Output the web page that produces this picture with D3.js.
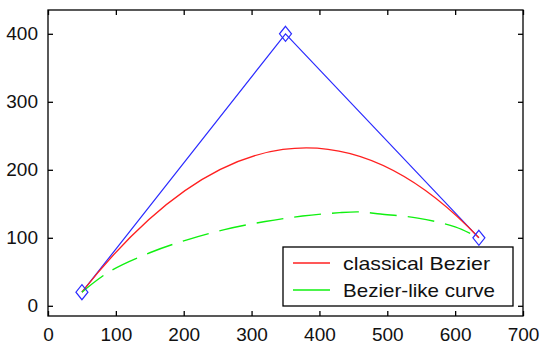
<!DOCTYPE html>
<html><head><meta charset="utf-8">
<script src="https://cdn.jsdelivr.net/npm/d3@7"></script>
<style>body{margin:0;background:#fff}svg{display:block}text{font-family:Arial,"Liberation Sans",sans-serif;fill:#111}</style>
</head><body>
<script>
// control polygon
const ctrlX = [50, 350, 635];
const ctrlY = [20, 400, 100];
// Bezier-like curve
const likeX = [50, 90, 150, 205, 260, 320, 375, 430, 460, 490, 545, 600, 635];
const likeY = [20, 50, 78, 97, 112, 124, 132, 137, 138, 135, 129, 116, 100];
const xTicks = [0, 100, 200, 300, 400, 500, 600, 700];
const yTicks = [0, 100, 200, 300, 400];
const legendLabels = ["classical Bezier", "Bezier-like curve"];

const W = 541, H = 346;
const L = 48, R = 523, T = 10, B = 316;
const svg = d3.select("body").append("svg").attr("width", W).attr("height", H);
const x = d3.scaleLinear().domain([0, 700]).range([L, R]);
const y = d3.scaleLinear().domain([-15, 435]).range([B, T]);

// axes box
svg.append("rect").attr("x", L).attr("y", T).attr("width", R - L).attr("height", B - T)
  .attr("fill", "none").attr("stroke", "#000").attr("stroke-width", 1.3);

const tl = 5;
const xb = svg.append("g").attr("transform", `translate(0,${B})`)
  .call(d3.axisBottom(x).tickValues(xTicks).tickSizeInner(-tl).tickSizeOuter(0).tickPadding(12));
const xt = svg.append("g").attr("transform", `translate(0,${T})`)
  .call(d3.axisTop(x).tickValues(xTicks).tickSizeInner(-tl).tickSizeOuter(0).tickFormat(""));
const yl = svg.append("g").attr("transform", `translate(${L},0)`)
  .call(d3.axisLeft(y).tickValues(yTicks).tickSizeInner(-tl).tickSizeOuter(0).tickPadding(10));
const yr = svg.append("g").attr("transform", `translate(${R},0)`)
  .call(d3.axisRight(y).tickValues(yTicks).tickSizeInner(-tl).tickSizeOuter(0).tickFormat(""));
[xb, xt, yl, yr].forEach(g => {
  g.select(".domain").remove();
  g.selectAll("line").attr("stroke", "#000").attr("stroke-width", 1.3);
  g.selectAll("text").attr("font-size", 19).attr("font-family", "Arial, 'Liberation Sans', sans-serif").attr("fill", "#111");
});

// control polygon (blue)
const ctrl = ctrlX.map((d, i) => [d, ctrlY[i]]);
svg.append("path").datum(ctrl)
  .attr("d", d3.line().x(d => x(d[0])).y(d => y(d[1])))
  .attr("fill", "none").attr("stroke", "#2b2bff").attr("stroke-width", 1.2);

// classical Bezier (red), quadratic through the control points
const p = d3.path();
p.moveTo(x(ctrl[0][0]), y(ctrl[0][1]));
p.quadraticCurveTo(x(ctrl[1][0]), y(ctrl[1][1]), x(ctrl[2][0]), y(ctrl[2][1]));
svg.append("path").attr("d", p.toString()).attr("fill", "none")
  .attr("stroke", "#ff2020").attr("stroke-width", 1.3);

// Bezier-like (green dashed)
const like = likeX.map((d, i) => [d, likeY[i]]);
svg.append("path").datum(like)
  .attr("d", d3.line().x(d => x(d[0])).y(d => y(d[1])).curve(d3.curveCatmullRom))
  .attr("fill", "none").attr("stroke", "#10f010").attr("stroke-width", 1.4)
  .attr("stroke-dasharray", "27,11");

// diamond markers
svg.selectAll(".mk").data(ctrl).join("path")
  .attr("d", d => { const cx = x(d[0]), cy = y(d[1]); return `M${cx},${cy-7.5}L${cx+6},${cy}L${cx},${cy+7.5}L${cx-6},${cy}Z`; })
  .attr("fill", "none").attr("stroke", "#2b2bff").attr("stroke-width", 1.2);

// legend
const lg = svg.append("g");
lg.append("rect").attr("x", 283).attr("y", 247).attr("width", 230).attr("height", 59)
  .attr("fill", "#fff").attr("stroke", "#000").attr("stroke-width", 1.3);
const lc = ["#ff2020", "#10f010"];
const lw = [147, 152];
legendLabels.forEach((t, i) => {
  const yy = 263 + i * 27;
  lg.append("line").attr("x1", 293).attr("x2", 330).attr("y1", yy).attr("y2", yy)
    .attr("stroke", lc[i]).attr("stroke-width", 1.3);
  lg.append("text").attr("x", 343).attr("y", yy).attr("dy", "0.35em")
    .attr("font-size", 19).attr("textLength", lw[i]).attr("lengthAdjust", "spacingAndGlyphs").text(t);
});
</script>
</body></html>
